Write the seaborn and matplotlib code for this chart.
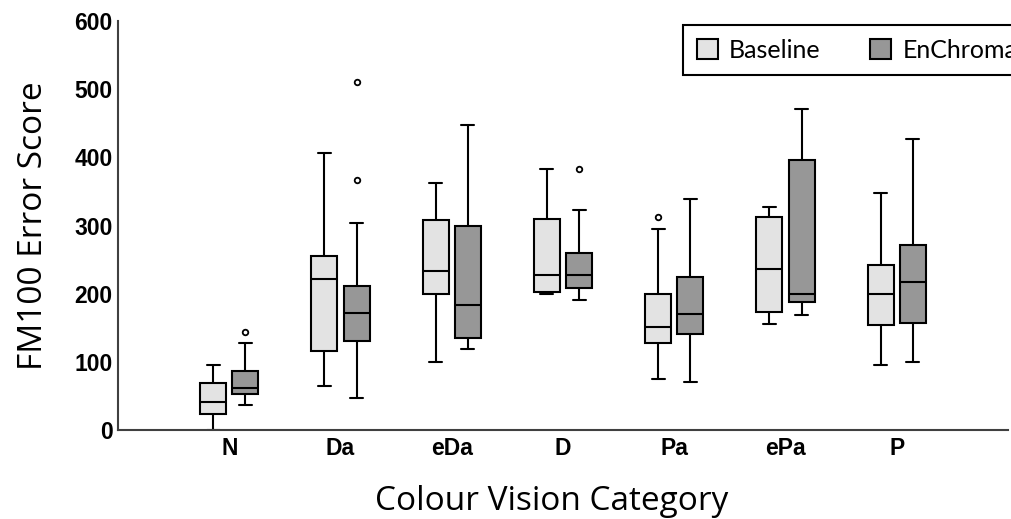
import numpy as np
import pandas as pd
import seaborn as sns
import matplotlib.pyplot as plt

categories = ['N', 'Da', 'eDa', 'D', 'Pa', 'ePa', 'P']
conditions = ['Baseline', 'EnChroma']

# box summaries: whisker low, q1, median, q3, whisker high, outliers
base_lo = [0, 64, 100, 200, 75, 156, 95]
base_q1 = [23, 116, 200, 203, 128, 173, 154]
base_med = [41, 222, 233, 227, 151, 236, 200]
base_q3 = [69, 255, 308, 309, 200, 313, 242]
base_hi = [95, 407, 363, 383, 295, 327, 348]
base_out = [[], [], [], [], [312], [], []]

enc_lo = [36, 47, 119, 191, 71, 168, 100]
enc_q1 = [53, 131, 135, 209, 141, 188, 157]
enc_med = [62, 172, 183, 227, 170, 199, 217]
enc_q3 = [86, 211, 299, 260, 225, 396, 271]
enc_hi = [128, 303, 447, 323, 339, 471, 427]
enc_out = [[144], [367, 511], [], [383], [], [], []]


def sample(lo, q1, med, q3, hi, out):
    # a set of scores whose quartiles and whiskers land on the read values
    return [lo] * (1 + len(out)) + [q1] * 5 + [med] * 5 + [q3] * 5 + [hi] + list(out)


rows = []
for cond, stats in [('Baseline', (base_lo, base_q1, base_med, base_q3, base_hi, base_out)),
                    ('EnChroma', (enc_lo, enc_q1, enc_med, enc_q3, enc_hi, enc_out))]:
    for i, cat in enumerate(categories):
        for v in sample(*[s[i] for s in stats]):
            rows.append({'category': cat, 'condition': cond, 'score': v})
df = pd.DataFrame(rows)

sns.set_style('white')
plt.rcParams['font.family'] = ['Liberation Sans', 'DejaVu Sans']
plt.rcParams['text.color'] = 'black'
plt.rcParams['axes.labelcolor'] = 'black'
plt.rcParams['xtick.labelcolor'] = 'black'
plt.rcParams['ytick.labelcolor'] = 'black'
label_font = 'Open Sans'

fig = plt.figure(figsize=(10.11, 5.19), dpi=100)
ax = fig.add_axes([0.1167, 0.1715, 0.8803, 0.788])

sns.boxplot(data=df, x='category', y='score', hue='condition',
            order=categories, hue_order=conditions,
            palette=['#e3e3e3', '#979797'], width=0.58, gap=0.19,
            linecolor='black', linewidth=1.5, whis=1.5,
            flierprops=dict(marker='o', markersize=4, markerfacecolor='white',
                            markeredgecolor='black', markeredgewidth=1.3),
            ax=ax)

ax.set_xlim(-1, 7)
ax.set_ylim(0, 600)
ax.set_yticks(range(0, 601, 100))
for side in ['top', 'right']:
    ax.spines[side].set_visible(False)
for side in ['left', 'bottom']:
    ax.spines[side].set_color('#404040')
    ax.spines[side].set_linewidth(1.5)
ax.tick_params(axis='both', direction='in', length=7, width=1.2, color='#404040',
               labelsize=16.5)
ax.tick_params(axis='x', pad=5)
ax.tick_params(axis='y', pad=4)
for lab in ax.get_xticklabels() + ax.get_yticklabels():
    lab.set_fontweight('bold')

ax.set_xlabel('Colour Vision Category', fontsize=24, family=label_font, labelpad=18)
ax.xaxis.label.set_x(0.4876)
ax.set_ylabel('FM100 Error Score', fontsize=24, family=label_font, labelpad=17)

handles, labels = ax.get_legend_handles_labels()
leg = ax.legend(handles, labels, ncol=2, loc='upper left',
                bbox_to_anchor=(0.6756, 0.952), bbox_transform=fig.transFigure,
                borderaxespad=0, fancybox=False, edgecolor='black', framealpha=1,
                prop={'family': 'Lato', 'size': 18},
                handlelength=0.84, handleheight=0.84, handletextpad=0.44,
                columnspacing=2.0, borderpad=0.55)
leg.get_frame().set_linewidth(1.5)

fig.savefig('out.png', dpi=100)
